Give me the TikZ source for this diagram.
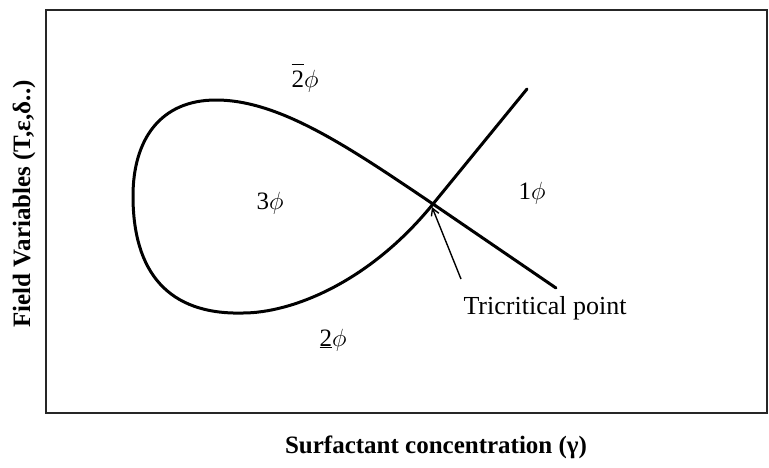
\documentclass[tikz,border=0pt]{standalone}
\usepackage{fontspec}
\setmainfont{Liberation Serif}
\usetikzlibrary{arrows.meta}
\begin{document}
\begin{tikzpicture}[x=1pt,y=-1pt,
  frame/.style={draw=black!85,line width=2pt},
  curve/.style={line width=3pt,line cap=round},
  lbl/.style={inner sep=0pt,font=\fontsize{25}{25}\selectfont},
  axis/.style={inner sep=0pt,font=\fontsize{25}{25}\selectfont\bfseries},
  pointer/.style={line width=1.4pt,-{Straight Barb[length=7pt,width=8pt]}}]
\useasboundingbox (0,0) rectangle (769,467);
\draw[frame] (46,10) rectangle (767,413);
\coordinate (C) at (433,204);
\coordinate (UR) at (527,89);
\coordinate (LR) at (556,288);
\draw[curve] (UR) -- (C)
  .. controls (368,284) and (290,313) .. (243,313)
  .. controls (168,315) and (133,272) .. (133,196)
  .. controls (133,140) and (160,100) .. (216,100)
  .. controls (280,100) and (350,148) .. (C) -- (LR);
\node[lbl] (p2bar) at (305,78) {\rlap{\rule[0.88em]{0.5em}{1.3pt}}2$\phi$};
\node[lbl] (p3) at (270,203) {3$\phi$};
\node[lbl] (p1) at (532,193) {1$\phi$};
\node[lbl] (p2und) at (333,340) {\underline{2}$\phi$};
\node[lbl,font=\fontsize{26}{26}\selectfont] (tri) at (545,308) {Tricritical point};
\coordinate (tail) at (461,279);
\draw[pointer] (tail) -- (432,207);
\node[axis] (xl) at (436,447) {Surfactant concentration (γ)};
\node[axis,rotate=90] (yl) at (24,204) {Field Variables (T,ε,δ..)};
\end{tikzpicture}
\end{document}
